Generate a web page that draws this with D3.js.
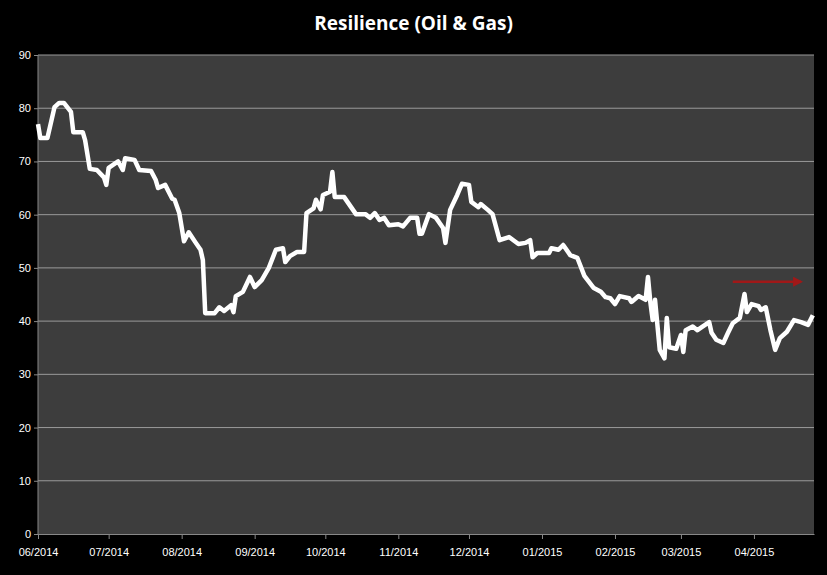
<!DOCTYPE html><html><head><meta charset="utf-8">
<script src="https://cdn.jsdelivr.net/npm/d3@7"></script>
<style>body{margin:0;background:#000}svg{display:block}</style></head><body>
<script>
const title = "Resilience (Oil & Gas)";
const startDate = "2014-06-01";
const dayOffsets = [0,1,4,7,9,11,14,15,19,20,22,25,28,29,30,34,36,37,41,43,48,50,51,54,57,58,60,62,64,67,69,70,71,75,77,79,82,83,84,87,90,92,95,98,101,104,105,107,110,113,114,117,118,120,121,124,125,126,130,135,139,141,143,145,147,149,153,155,158,161,162,163,166,169,172,173,175,178,180,183,184,187,188,191,193,196,200,204,207,209,210,212,217,218,221,223,226,229,232,236,239,241,243,245,247,251,252,255,258,259,260,261,262,264,266,267,268,271,273,274,275,278,280,282,285,286,288,291,293,295,298,300,301,303,306,307,309,311,313,315,318,321,324,327,329];
const values = [77,74.4,74.4,80.2,81,81,79.3,75.5,75.5,74,68.6,68.4,67,65.6,68.8,70,68.4,70.6,70.3,68.4,68.2,66.5,65,65.6,63,62.8,60.3,55,56.7,54.7,53.4,51.5,41.5,41.5,42.6,41.9,43,41.7,44.7,45.5,48.3,46.4,47.7,50,53.4,53.7,51.1,52.2,53,53,60.3,61.2,62.8,61,63.7,64.3,68,63.3,63.3,60.1,60.1,59.4,60.3,59,59.4,58,58.2,57.8,59.4,59.4,56.4,56.4,60.1,59.4,57.5,54.7,60.9,63.7,65.8,65.6,62.4,61.4,62,60.9,60.1,55.2,55.8,54.5,54.7,55.2,52,52.8,52.8,53.7,53.4,54.3,52.4,51.9,48.5,46.2,45.5,44.5,44.3,43.2,44.7,44.3,43.6,44.7,44,48.3,43.6,40.2,44,34.6,33,40.6,35.1,34.8,37.4,34.2,38.3,39,38.3,38.9,39.8,37.8,36.5,35.9,37.8,39.6,40.6,45.1,41.7,43.2,42.8,42.1,42.6,38.3,34.6,36.8,38,40.2,39.8,39.3,41.1];
const domainEndDays = 329.5;
const yTicks = [0,10,20,30,40,50,60,70,80,90];
const arrow = {fromDay: 295, toDay: 324, value: 47.4};

const W=827,H=575, m={l:38,r:13,t:55,b:41};
const svg=d3.select("body").append("svg").attr("width",W).attr("height",H).style("background","#000");
const t0=d3.isoParse(startDate);
const toDate=d=>new Date(t0.getTime()+d*864e5);
const x=d3.scaleTime().domain([t0,toDate(domainEndDays)]).range([m.l,W-m.r]);
const y=d3.scaleLinear().domain([0,90]).range([H-m.b,m.t]);
svg.append("rect").attr("x",m.l).attr("y",m.t).attr("width",W-m.r-m.l).attr("height",H-m.b-m.t).attr("fill","#3d3d3d");
svg.append("g").selectAll("line").data(yTicks.slice(1)).join("line")
 .attr("x1",m.l).attr("x2",W-m.r).attr("y1",d=>y(d)).attr("y2",d=>y(d)).attr("stroke","#9a9a9a").attr("stroke-width",1);
const ya=svg.append("g").attr("transform",`translate(${m.l},0)`).call(d3.axisLeft(y).tickValues(yTicks).tickSize(4).tickSizeOuter(0));
const xa=svg.append("g").attr("transform",`translate(0,${H-m.b})`).call(d3.axisBottom(x).ticks(d3.timeMonth.every(1)).tickFormat(d3.timeFormat("%m/%Y")).tickSize(5).tickSizeOuter(0));
[ya,xa].forEach(a=>{a.selectAll("path,line").attr("stroke","#888");a.selectAll("text").attr("fill","#fff").style("font-family","Liberation Sans, Arial").style("font-size","11px");});
xa.selectAll("text").attr("dy","1.3em");
ya.select(".domain").remove();
svg.append("line").attr("x1",m.l).attr("x2",m.l).attr("y1",m.t).attr("y2",H-m.b).attr("stroke","#888");
const data=dayOffsets.map((d,i)=>({date:toDate(d),v:values[i]}));
svg.append("path").datum(data).attr("fill","none").attr("stroke","#fff").attr("stroke-width",4.5).attr("stroke-linejoin","round")
 .attr("d",d3.line().x(d=>x(d.date)).y(d=>y(d.v)));
svg.append("defs").append("marker").attr("id","ah").attr("viewBox","0 0 10 10").attr("refX",8).attr("refY",5).attr("markerWidth",4).attr("markerHeight",4).attr("orient","auto")
 .append("path").attr("d","M0,0L10,5L0,10z").attr("fill","#a01818");
svg.append("line").attr("x1",x(toDate(arrow.fromDay))).attr("x2",x(toDate(arrow.toDay))).attr("y1",y(arrow.value)).attr("y2",y(arrow.value))
 .attr("stroke","#a01818").attr("stroke-width",2.5).attr("marker-end","url(#ah)");
svg.append("text").attr("x",W/2).attr("y",30).attr("text-anchor","middle").attr("fill","#fff").style("font-family","Open Sans, Liberation Sans").style("font-weight","bold").style("font-size","19px").text(title);
</script></body></html>
